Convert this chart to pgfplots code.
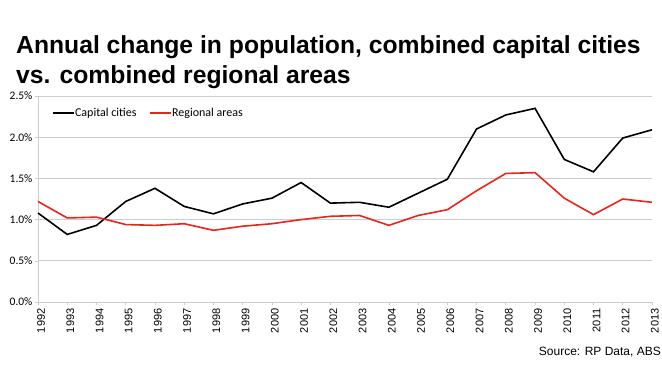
\documentclass[border=0pt]{standalone}
\usepackage{pgfplots}
\pgfplotsset{compat=1.18}
\usepackage{fontspec}
\setmainfont{Liberation Sans}
\newfontfamily\calfont{Carlito}
\definecolor{gridgray}{RGB}{205,205,205}
\definecolor{regred}{RGB}{232,36,28}
\begin{document}
\begin{tikzpicture}[x=1pt,y=1pt]
\useasboundingbox (-38,-71) rectangle (624,302);
\begin{axis}[
  at={(0,0)}, anchor=south west,
  scale only axis, width=614pt, height=206pt,
  xmin=1992, xmax=2013, ymin=0, ymax=2.5,
  xtick={1992,...,2013},
  xticklabel style={rotate=90, anchor=east, yshift=-3pt, font=\fontsize{11}{12}\selectfont, /pgf/number format/1000 sep={}},
  ytick={0,0.5,1,1.5,2,2.5},
  yticklabel={\pgfmathprintnumber[fixed,fixed zerofill,precision=1]{\tick}\%},
  yticklabel style={font=\calfont\fontsize{11.5}{12}\selectfont, xshift=1pt},
  /pgf/number format/assume math mode=true,
  axis x line*=bottom, axis y line*=left,
  axis line style={gridgray, line width=0.8pt},
  every tick/.style={gridgray, line width=0.6pt},
  major tick length=3pt,
  xtick pos=bottom, ytick pos=left,
  ymajorgrids, grid style={gridgray, line width=0.8pt},
  tick align=outside,
  legend style={draw=none, fill=none, inner sep=0pt, outer sep=0pt,
    at={(0.0228,0.917)}, anchor=west,
    font=\calfont\fontsize{12}{13}\selectfont, legend columns=2,
    column sep=0pt,
    /tikz/every even column/.append style={column sep=12pt},
    nodes={inner sep=0.5pt}},
  legend image code/.code={\draw[#1] (0pt,0pt) -- (21pt,0pt);},
  clip=false,
]
\addplot[black, line width=1.6pt] coordinates {
(1992,1.08) (1993,0.82) (1994,0.93) (1995,1.22) (1996,1.38) (1997,1.16)
(1998,1.07) (1999,1.19) (2000,1.26) (2001,1.45) (2002,1.20) (2003,1.21)
(2004,1.15) (2005,1.32) (2006,1.49) (2007,2.10) (2008,2.27) (2009,2.35)
(2010,1.73) (2011,1.58) (2012,1.99) (2013,2.09)};
\addlegendentry{Capital cities}
\addplot[regred, line width=1.6pt] coordinates {
(1992,1.22) (1993,1.02) (1994,1.03) (1995,0.94) (1996,0.93) (1997,0.95)
(1998,0.87) (1999,0.92) (2000,0.95) (2001,1.00) (2002,1.04) (2003,1.05)
(2004,0.93) (2005,1.05) (2006,1.12) (2007,1.35) (2008,1.56) (2009,1.57)
(2010,1.26) (2011,1.06) (2012,1.25) (2013,1.21)};
\addlegendentry{Regional areas}
\end{axis}
\node[anchor=base west, font=\bfseries\fontsize{24.7}{25}\selectfont, inner sep=0pt] at (-22,249) {Annual change in population, combined capital cities};
\node[anchor=base west, font=\bfseries\fontsize{24.7}{25}\selectfont, inner sep=0pt] at (-22,219) {vs. combined regional areas};
\node[anchor=base east, font=\fontsize{12}{13}\selectfont, inner sep=0pt] at (623,-53) {Source: RP Data, ABS};
\end{tikzpicture}
\end{document}
